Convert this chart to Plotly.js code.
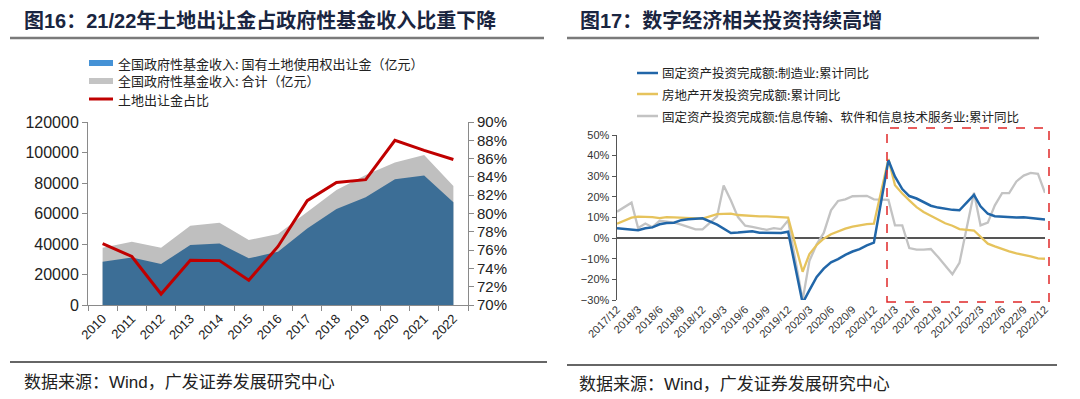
<!DOCTYPE html>
<html>
<head>
<meta charset="utf-8">
<script src="https://cdn.plot.ly/plotly-3.0.1.min.js"></script>
<style>html,body{margin:0;padding:0;background:#fff;}#chart{width:1080px;height:399px;}</style>
</head>
<body>
<div id="chart"></div>
<script>
// ---------- Left chart data (图16) ----------
const years = ['2010','2011','2012','2013','2014','2015','2016','2017','2018','2019','2020','2021','2022'];
const landSales = [28300,31200,26900,39300,40400,30600,35000,50200,62900,70600,82400,85000,67300];
const fundTotal = [37500,41500,37600,52000,54000,42600,46600,61200,75400,85200,93500,98400,78000];
const landShare = [0.767,0.753,0.712,0.749,0.7485,0.727,0.764,0.814,0.834,0.837,0.880,0.869,0.859];
const leftNames = ['全国政府性基金收入: 国有土地使用权出让金（亿元）','全国政府性基金收入: 合计（亿元）','土地出让金占比'];

// ---------- Right chart data (图17) ----------
const months = ['2017-12',
 '2018-02','2018-03','2018-04','2018-05','2018-06','2018-07','2018-08','2018-09','2018-10','2018-11','2018-12',
 '2019-02','2019-03','2019-04','2019-05','2019-06','2019-07','2019-08','2019-09','2019-10','2019-11','2019-12',
 '2020-02','2020-03','2020-04','2020-05','2020-06','2020-07','2020-08','2020-09','2020-10','2020-11','2020-12',
 '2021-02','2021-03','2021-04','2021-05','2021-06','2021-07','2021-08','2021-09','2021-10','2021-11','2021-12',
 '2022-02','2022-03','2022-04','2022-05','2022-06','2022-07','2022-08','2022-09','2022-10','2022-11','2022-12'];
const manufacturing = [4.8,
 4.3,3.8,4.8,5.2,6.7,7.3,7.5,8.7,9.1,9.5,9.6,
 6.5,4.6,2.5,2.7,3.0,3.3,2.6,2.5,2.6,2.5,3.1,
 -31.5,-25.2,-18.8,-14.8,-11.7,-10.2,-8.1,-6.5,-5.3,-3.5,-2.2,
 37.8,29.8,23.8,20.4,19.2,17.3,15.7,14.8,14.2,13.7,13.5,
 21.0,15.4,11.8,10.6,10.4,9.9,10.0,10.1,9.7,9.3,9.0];
const realEstate = [7.0,
 9.9,10.4,10.3,10.2,9.7,10.2,10.1,9.9,9.7,9.7,9.5,
 11.6,11.8,11.9,11.2,10.9,10.6,10.5,10.5,10.3,10.2,9.9,
 -16.3,-7.7,-3.3,-0.3,1.9,3.4,4.6,5.6,6.3,6.8,7.0,
 38.3,25.6,21.6,18.3,15.0,12.7,10.9,8.8,7.2,6.0,4.4,
 3.7,0.7,-2.7,-4.0,-5.4,-6.4,-7.4,-8.0,-8.8,-9.8,-10.0];
const infoTech = [12.8,
 17.2,4.9,7.1,5.3,8.4,8.0,7.5,6.5,5.3,4.2,4.2,
 10.5,25.5,18.2,10.2,6.0,5.4,4.6,4.0,4.8,4.4,8.6,
 -30.0,-11.0,-3.0,2.5,13.5,18.0,18.8,20.3,20.5,20.5,18.8,
 18.5,6.2,6.2,-4.8,-5.6,-5.6,-5.3,-9.2,-13.3,-17.5,-12.0,
 22.0,6.2,7.5,15.9,21.8,21.8,27.5,30.3,31.6,31.2,22.0];
const rightNames = ['固定资产投资完成额:制造业:累计同比','房地产开发投资完成额:累计同比','固定资产投资完成额:信息传输、软件和信息技术服务业:累计同比'];
const tickDates = ['2017-12','2018-03','2018-06','2018-09','2018-12','2019-03','2019-06','2019-09','2019-12','2020-03','2020-06','2020-09','2020-12','2021-03','2021-06','2021-09','2021-12','2022-03','2022-06','2022-09','2022-12'];
const tickLabels = ['2017/12','2018/3','2018/6','2018/9','2018/12','2019/3','2019/6','2019/9','2019/12','2020/3','2020/6','2020/9','2020/12','2021/3','2021/6','2021/9','2021/12','2022/3','2022/6','2022/9','2022/12'];

// ---------- Helpers ----------
const W = 1080, H = 399;
const px = x => x / W;
const py = y => 1 - y / H;
const LAT = 'Liberation Sans, Arial, Noto Sans CJK SC, sans-serif';
const CJK = 'Noto Sans CJK SC, sans-serif';

const leftColors = ['#3c6e96', '#bfbfbf', '#c00000'];
const leftSwatch = ['#4592d6', '#c4c4c4', '#c00000'];
const rightColors = ['#2166a8', '#e6c35c', '#c3c3c3'];

const traces = [
  {x: years, y: fundTotal, type: 'scatter', mode: 'lines', fill: 'tozeroy', fillcolor: leftColors[1],
   line: {width: 0, color: leftColors[1]}, name: leftNames[1], xaxis: 'x', yaxis: 'y', showlegend: false},
  {x: years, y: landSales, type: 'scatter', mode: 'lines', fill: 'tozeroy', fillcolor: leftColors[0],
   line: {width: 0, color: leftColors[0]}, name: leftNames[0], xaxis: 'x', yaxis: 'y', showlegend: false},
  {x: years, y: landShare, type: 'scatter', mode: 'lines', line: {width: 3, color: leftColors[2]},
   name: leftNames[2], xaxis: 'x', yaxis: 'y2', showlegend: false},
  {x: months, y: infoTech, type: 'scatter', mode: 'lines', line: {width: 2.3, color: rightColors[2]},
   name: rightNames[2], xaxis: 'x2', yaxis: 'y3', showlegend: false},
  {x: months, y: realEstate, type: 'scatter', mode: 'lines', line: {width: 2.3, color: rightColors[1]},
   name: rightNames[1], xaxis: 'x2', yaxis: 'y3', showlegend: false},
  {x: months, y: manufacturing, type: 'scatter', mode: 'lines', line: {width: 2.5, color: rightColors[0]},
   name: rightNames[0], xaxis: 'x2', yaxis: 'y3', showlegend: false}
];

const shapes = [];
const annotations = [];

// Titles
annotations.push({xref: 'paper', yref: 'paper', x: px(22), y: py(21), xanchor: 'left', yanchor: 'middle', showarrow: false,
  text: '<b>图16：21/22年土地出让金占政府性基金收入比重下降</b>', font: {family: LAT, size: 20, color: '#1a2540'}});
annotations.push({xref: 'paper', yref: 'paper', x: px(578), y: py(21), xanchor: 'left', yanchor: 'middle', showarrow: false,
  text: '<b>图17：数字经济相关投资持续高增</b>', font: {family: LAT, size: 20, color: '#1a2540'}});
shapes.push({type: 'line', xref: 'paper', yref: 'paper', x0: px(10), x1: px(544), y0: py(38), y1: py(38), line: {color: '#7a7a7a', width: 2.5}});
shapes.push({type: 'line', xref: 'paper', yref: 'paper', x0: px(567), x1: px(1039), y0: py(38), y1: py(38), line: {color: '#7a7a7a', width: 2.5}});

// Footers
shapes.push({type: 'line', xref: 'paper', yref: 'paper', x0: px(10), x1: px(547), y0: py(362), y1: py(362), line: {color: '#333', width: 1.5}});
shapes.push({type: 'line', xref: 'paper', yref: 'paper', x0: px(567), x1: px(1057), y0: py(365), y1: py(365), line: {color: '#333', width: 1.5}});
annotations.push({xref: 'paper', yref: 'paper', x: px(22), y: py(382), xanchor: 'left', yanchor: 'middle', showarrow: false,
  text: '数据来源：Wind，广发证券发展研究中心', font: {family: LAT, size: 17, color: '#222'}});
annotations.push({xref: 'paper', yref: 'paper', x: px(577), y: py(384), xanchor: 'left', yanchor: 'middle', showarrow: false,
  text: '数据来源：Wind，广发证券发展研究中心', font: {family: LAT, size: 17, color: '#222'}});

// Left legend (manual)
const leftLegY = [63, 81, 99];
leftNames.forEach((n, i) => {
  if (i < 2) {
    shapes.push({type: 'rect', xref: 'paper', yref: 'paper', x0: px(89), x1: px(113), y0: py(leftLegY[i] + 3), y1: py(leftLegY[i] - 3),
      fillcolor: leftSwatch[i], line: {width: 0}});
  } else {
    shapes.push({type: 'line', xref: 'paper', yref: 'paper', x0: px(89), x1: px(113), y0: py(leftLegY[i]), y1: py(leftLegY[i]),
      line: {color: leftSwatch[i], width: 3}});
  }
  annotations.push({xref: 'paper', yref: 'paper', x: px(116), y: py(leftLegY[i]), xanchor: 'left', yanchor: 'middle', showarrow: false,
    text: n, font: {family: CJK, size: 13, color: '#222'}});
});

// Right legend (manual)
const rightLegY = [73, 94, 116];
rightNames.forEach((n, i) => {
  shapes.push({type: 'line', xref: 'paper', yref: 'paper', x0: px(637), x1: px(658), y0: py(rightLegY[i]), y1: py(rightLegY[i]),
    line: {color: rightColors[i], width: 2.5}});
  annotations.push({xref: 'paper', yref: 'paper', x: px(660), y: py(rightLegY[i]), xanchor: 'left', yanchor: 'middle', showarrow: false,
    text: n, font: {family: CJK, size: 12.5, color: '#222'}});
});

// Red dashed highlight box
shapes.push({type: 'rect', xref: 'paper', yref: 'paper', x0: px(887), x1: px(1049), y0: py(302), y1: py(128),
  line: {color: '#e02828', width: 1.5, dash: 'dash'}, fillcolor: 'rgba(0,0,0,0)'});

const axisFont = {family: LAT, size: 15, color: '#222'};
const smallFont = {family: LAT, size: 11, color: '#333'};

const layout = {
  width: W, height: H,
  margin: {l: 0, r: 0, t: 0, b: 0},
  paper_bgcolor: '#fff', plot_bgcolor: 'rgba(0,0,0,0)',
  showlegend: false,
  xaxis: {domain: [px(88), px(468)], anchor: 'y', type: 'category', range: [-0.5, 12.5],
    showgrid: false, zeroline: false, showline: true, linecolor: '#8a8a8a', linewidth: 1,
    ticks: 'outside', tickson: 'boundaries', ticklen: 5, tickcolor: '#8a8a8a',
    tickangle: -45, tickfont: {family: LAT, size: 13, color: '#222'}},
  yaxis: {domain: [py(305), py(122)], anchor: 'x', range: [0, 120000], dtick: 20000,
    showgrid: false, zeroline: false, showline: true, linecolor: '#8a8a8a', linewidth: 1,
    ticks: 'outside', ticklen: 5, tickcolor: '#8a8a8a', tickfont: {family: LAT, size: 16, color: '#222'}, tickformat: 'd'},
  yaxis2: {domain: [py(305), py(122)], anchor: 'x', overlaying: 'y', side: 'right', range: [0.70, 0.90], dtick: 0.02,
    tickformat: '.0%', showgrid: false, zeroline: false, showline: true, linecolor: '#8a8a8a', linewidth: 1,
    ticks: 'outside', ticklen: 5, tickcolor: '#8a8a8a', tickfont: axisFont},
  xaxis2: {domain: [px(617), px(1045)], anchor: 'y3', type: 'date', range: ['2017-12-01', '2022-12-01'],
    tickmode: 'array', tickvals: tickDates, ticktext: tickLabels, ticks: '', showline: false,
    showgrid: false, zeroline: false, tickangle: -45, tickfont: smallFont},
  xaxis3: {domain: [px(617), px(1045)], overlaying: 'x2', matches: 'x2', anchor: 'free', position: py(238),
    type: 'date', tickmode: 'array', tickvals: tickDates, ticktext: tickLabels, showticklabels: false,
    ticks: 'outside', ticklen: 4, tickcolor: '#555', tickwidth: 1.2, showline: false, showgrid: false, zeroline: false},
  yaxis3: {domain: [py(300), py(135)], anchor: 'x2', range: [-30, 50], dtick: 10, ticksuffix: '%',
    showgrid: false, zeroline: true, zerolinecolor: '#555', zerolinewidth: 1.5,
    showline: true, linecolor: '#555', linewidth: 1.5, ticks: 'outside', ticklen: 4, tickcolor: '#555',
    tickfont: smallFont},
  shapes: shapes,
  annotations: annotations
};

Plotly.newPlot('chart', traces, layout, {staticPlot: true, displayModeBar: false});
</script>
</body>
</html>
